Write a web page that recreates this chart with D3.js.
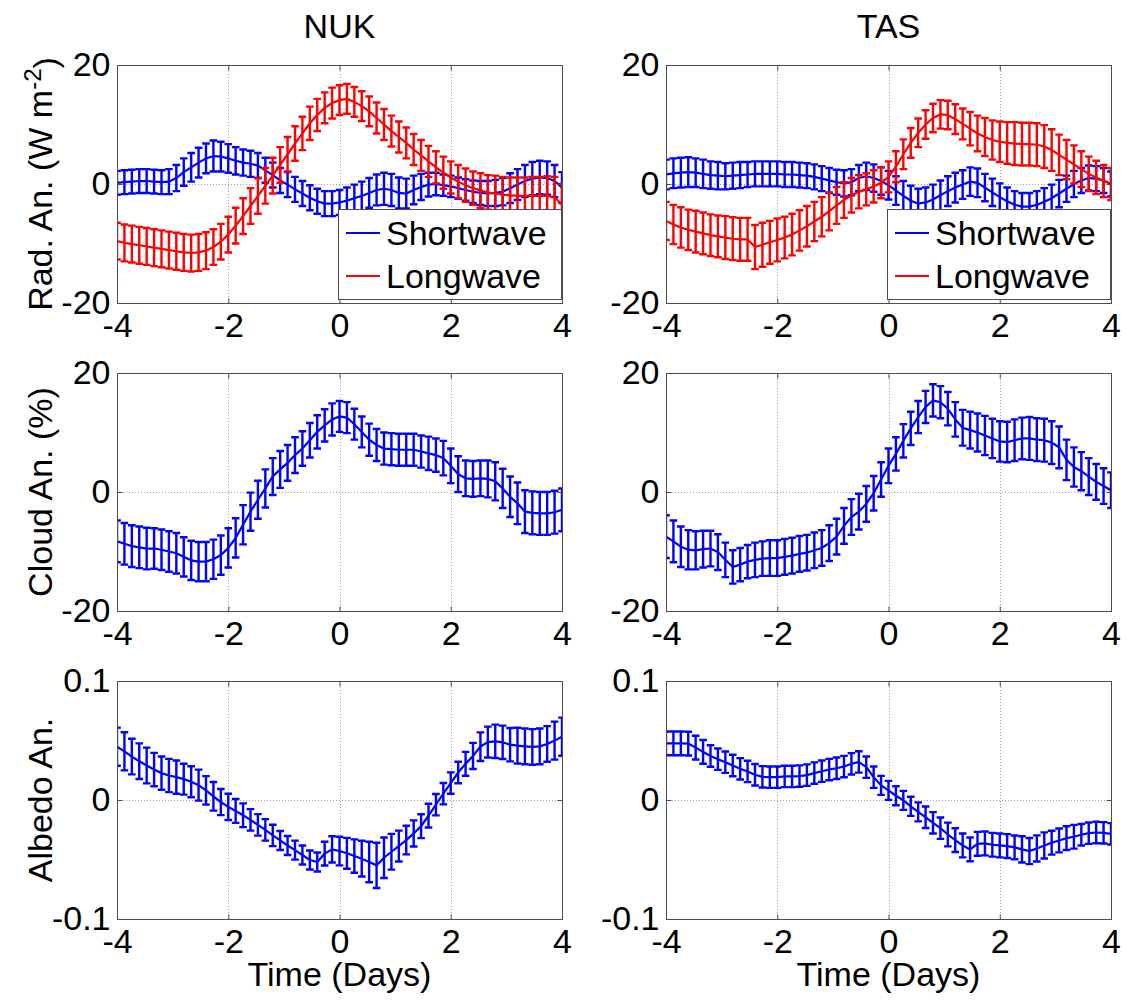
<!DOCTYPE html>
<html>
<head>
<meta charset="utf-8">
<script src="https://cdn.jsdelivr.net/npm/d3@7"></script>
<style>
  body { margin: 0; background: #fff; }
  svg text { font-family: "Liberation Sans", Arial, Helvetica, sans-serif; fill: #000; }
</style>
</head>
<body>
<div id="chart"></div>
<script>
// sample times: every 2/15 day from -4 to 4
var days = d3.range(61).map(function(i) { return -4 + i * 2 / 15; });

var stations = ["NUK", "TAS"];
var seriesNames = ["Shortwave", "Longwave"];
var xTicks = [-4, -2, 0, 2, 4];
var radTicks = [-20, 0, 20];
var cloudTicks = [-20, 0, 20];
var albedoTicks = [-0.1, 0, 0.1];

// ---------------- NUK ----------------
var nukSW = [
  0.2, 0.3, 0.4, 0.5, 0.5, 0.4, 0.3, 0.4, 1.0, 2.0,
  2.8, 3.6, 4.3, 4.7, 4.6, 4.3, 3.9, 3.6, 3.4, 3.1,
  2.3, 1.5, 0.6, -0.1, -0.9, -1.6, -2.3, -2.9, -3.3, -3.3,
  -3.1, -2.8, -2.4, -2.0, -1.5, -1.0, -0.8, -1.0, -1.5, -1.6,
  -1.0, -0.5, -0.1, 0.0, -0.2, -0.4, -0.7, -1.0, -1.3, -1.5,
  -1.6, -1.5, -1.3, -0.7, -0.1, 0.5, 0.9, 1.1, 1.0, 0.5,
  -0.6];
var nukSWerr = [
  2.0, 2.0, 2.0, 2.0, 2.0, 2.0, 2.0, 2.1, 2.2, 2.3,
  2.4, 2.5, 2.5, 2.6, 2.5, 2.4, 2.3, 2.2, 2.2, 2.1,
  2.1, 2.1, 2.1, 2.1, 2.1, 2.1, 2.1, 2.1, 2.1, 2.1,
  2.1, 2.2, 2.3, 2.4, 2.5, 2.6, 2.7, 2.7, 2.6, 2.5,
  2.4, 2.2, 2.0, 1.9, 1.8, 1.8, 1.8, 1.8, 1.9, 2.0,
  2.1, 2.2, 2.3, 2.5, 2.6, 2.7, 2.8, 2.8, 2.8, 2.7,
  2.6];
var nukLW = [
  -9.6, -9.9, -10.1, -10.3, -10.5, -10.7, -10.9, -11.1, -11.3, -11.5,
  -11.6, -11.5, -11.2, -10.6, -9.7, -8.5, -7.0, -5.4, -3.7, -2.0,
  -0.3, 1.4, 3.2, 5.0, 6.8, 8.5, 10.2, 11.6, 12.8, 13.6,
  14.1, 14.3, 13.8, 13.1, 12.2, 11.1, 10.0, 8.9, 7.9, 6.9,
  5.8, 4.8, 3.8, 2.8, 1.9, 1.1, 0.4, -0.2, -0.7, -1.1,
  -1.4, -1.6, -1.8, -1.9, -2.0, -2.0, -2.0, -2.0, -2.0, -2.2,
  -3.5];
var nukLWerr = [
  3.1, 3.1, 3.1, 3.1, 3.1, 3.1, 3.1, 3.1, 3.1, 3.1,
  3.1, 3.1, 3.1, 3.0, 3.0, 3.0, 3.0, 3.0, 3.0, 3.0,
  3.0, 3.0, 3.0, 2.9, 2.9, 2.8, 2.8, 2.7, 2.6, 2.6,
  2.5, 2.5, 2.5, 2.5, 2.5, 2.6, 2.6, 2.6, 2.6, 2.6,
  2.6, 2.6, 2.6, 2.7, 2.7, 2.7, 2.8, 2.8, 2.8, 2.9,
  2.9, 3.0, 3.0, 3.0, 3.1, 3.1, 3.2, 3.2, 3.3, 3.4,
  3.5];
var nukCloud = [
  -8.3, -8.7, -9.1, -9.3, -9.5, -9.5, -9.7, -10.0, -10.3, -10.9,
  -11.5, -11.7, -11.7, -11.3, -10.6, -9.4, -7.7, -5.5, -3.3, -1.3,
  0.6, 2.6, 3.8, 4.9, 6.2, 7.3, 8.7, 10.1, 11.2, 12.2,
  12.7, 12.5, 11.4, 10.1, 8.8, 7.9, 7.3, 7.2, 7.1, 7.1,
  7.1, 6.8, 6.5, 6.2, 5.7, 4.4, 3.0, 2.3, 2.2, 2.3,
  2.2, 1.8, 0.6, -0.8, -1.9, -3.3, -3.5, -3.6, -3.6, -3.4,
  -3.0];
var nukCloudErr = [
  3.5, 3.5, 3.5, 3.5, 3.5, 3.4, 3.4, 3.4, 3.4, 3.3,
  3.3, 3.3, 3.3, 3.3, 3.3, 3.3, 3.3, 3.3, 3.2, 3.2,
  3.2, 3.1, 3.1, 3.0, 3.0, 2.9, 2.9, 2.8, 2.7, 2.7,
  2.6, 2.6, 2.6, 2.6, 2.7, 2.7, 2.7, 2.7, 2.7, 2.7,
  2.7, 2.7, 2.8, 2.8, 2.9, 2.9, 3.0, 3.0, 3.0, 3.0,
  3.1, 3.2, 3.3, 3.4, 3.5, 3.6, 3.6, 3.6, 3.6, 3.6,
  3.6];
var nukAlb = [
  0.0448, 0.0409, 0.0365, 0.0326, 0.0290, 0.0256, 0.0226, 0.0206, 0.0192, 0.0175,
  0.0153, 0.0125, 0.0081, 0.0031, -0.0017, -0.0058, -0.0092, -0.0128, -0.0167, -0.0209,
  -0.0251, -0.0298, -0.0340, -0.0382, -0.0421, -0.0462, -0.0504, -0.0521, -0.0451, -0.0415,
  -0.0429, -0.0448, -0.0471, -0.0493, -0.0521, -0.0549, -0.0485, -0.0435, -0.0387, -0.0337,
  -0.0281, -0.0220, -0.0131, -0.0039, 0.0053, 0.0142, 0.0231, 0.0304, 0.0370, 0.0448,
  0.0487, 0.0493, 0.0485, 0.0465, 0.0457, 0.0451, 0.0446, 0.0451, 0.0471, 0.0499,
  0.0532];
var nukAlbErr = [
  0.016, 0.016, 0.015, 0.015, 0.015, 0.014, 0.014, 0.014, 0.014, 0.013,
  0.013, 0.013, 0.012, 0.012, 0.011, 0.011, 0.010, 0.010, 0.009, 0.009,
  0.009, 0.009, 0.008, 0.008, 0.008, 0.008, 0.008, 0.008, 0.010, 0.011,
  0.012, 0.013, 0.014, 0.015, 0.017, 0.019, 0.017, 0.015, 0.013, 0.012,
  0.011, 0.010, 0.010, 0.009, 0.009, 0.009, 0.009, 0.010, 0.011, 0.012,
  0.013, 0.014, 0.014, 0.014, 0.015, 0.015, 0.015, 0.015, 0.015, 0.016,
  0.016];

// ---------------- TAS ----------------
var tasSW = [
  1.6, 1.8, 1.9, 2.0, 1.9, 1.7, 1.5, 1.4, 1.3, 1.4,
  1.5, 1.6, 1.7, 1.7, 1.7, 1.7, 1.6, 1.6, 1.5, 1.4,
  1.2, 0.9, 0.6, 0.3, 0.1, 0.3, 1.0, 1.3, 1.0, 0.5,
  -0.2, -1.1, -2.0, -2.8, -3.3, -3.1, -2.6, -1.9, -1.2, -0.6,
  -0.1, 0.4, 0.2, -0.6, -1.4, -2.2, -2.9, -3.5, -3.8, -3.8,
  -3.5, -3.0, -2.4, -1.6, -0.8, 0.0, 0.6, 1.0, 0.9, 0.6,
  0.0];
var tasSWerr = [
  2.5, 2.5, 2.5, 2.5, 2.4, 2.4, 2.3, 2.3, 2.2, 2.2,
  2.2, 2.1, 2.1, 2.1, 2.1, 2.1, 2.1, 2.1, 2.1, 2.1,
  2.1, 2.1, 2.1, 2.1, 2.2, 2.2, 2.2, 2.3, 2.3, 2.3,
  2.4, 2.4, 2.5, 2.5, 2.5, 2.5, 2.5, 2.5, 2.5, 2.5,
  2.4, 2.4, 2.4, 2.3, 2.3, 2.3, 2.3, 2.3, 2.3, 2.3,
  2.3, 2.3, 2.3, 2.3, 2.2, 2.2, 2.1, 2.1, 2.1, 2.1,
  2.1];
var tasLW = [
  -6.2, -6.8, -7.3, -7.7, -8.0, -8.3, -8.6, -8.8, -9.0, -9.2,
  -9.3, -9.3, -10.6, -10.2, -9.8, -9.4, -9.0, -8.5, -7.8, -7.1,
  -6.3, -5.5, -4.6, -3.6, -2.7, -1.9, -1.3, -0.9, -0.4, 0.2,
  1.2, 2.9, 5.0, 6.9, 8.6, 10.0, 11.1, 11.7, 11.6, 10.9,
  10.1, 9.3, 8.5, 7.9, 7.4, 7.1, 6.9, 6.8, 6.7, 6.7,
  6.6, 6.3, 5.7, 4.9, 4.1, 3.3, 2.5, 1.7, 1.1, 0.5,
  0.0];
var tasLWerr = [
  3.2, 3.3, 3.4, 3.4, 3.5, 3.5, 3.5, 3.5, 3.6, 3.6,
  3.6, 3.6, 3.7, 3.7, 3.6, 3.6, 3.5, 3.5, 3.4, 3.4,
  3.3, 3.3, 3.2, 3.1, 3.0, 2.9, 2.8, 2.7, 2.7, 2.6,
  2.6, 2.6, 2.5, 2.5, 2.4, 2.4, 2.4, 2.4, 2.4, 2.5,
  2.6, 2.8, 3.0, 3.2, 3.3, 3.4, 3.5, 3.6, 3.6, 3.6,
  3.6, 3.6, 3.5, 3.4, 3.3, 3.2, 3.0, 2.9, 2.8, 2.7,
  2.7];
var tasCloud = [
  -7.5, -8.3, -9.2, -9.7, -9.8, -9.6, -9.5, -10.1, -11.4, -12.6,
  -12.2, -11.7, -11.4, -11.2, -11.1, -11.1, -10.9, -10.7, -10.4, -10.2,
  -9.8, -9.4, -8.6, -7.5, -5.7, -4.2, -3.3, -2.0, -0.2, 2.1,
  4.4, 6.4, 8.6, 10.7, 12.6, 14.3, 15.4, 15.1, 14.0, 12.2,
  10.8, 10.4, 10.0, 9.5, 9.0, 8.5, 8.4, 8.7, 9.0, 9.0,
  8.8, 8.7, 8.3, 7.5, 5.4, 4.2, 3.5, 2.6, 1.7, 1.0,
  0.3];
var tasCloudErr = [
  3.6, 3.5, 3.4, 3.3, 3.2, 3.1, 3.0, 3.0, 2.9, 2.8,
  2.8, 2.8, 2.9, 2.9, 3.0, 3.0, 3.0, 3.0, 3.0, 3.0,
  3.0, 3.0, 3.0, 3.0, 3.0, 3.0, 3.0, 3.0, 2.9, 2.9,
  2.9, 2.8, 2.8, 2.8, 2.7, 2.7, 2.7, 2.7, 2.8, 2.9,
  3.0, 3.1, 3.2, 3.3, 3.3, 3.4, 3.4, 3.5, 3.5, 3.6,
  3.6, 3.6, 3.6, 3.5, 3.4, 3.3, 3.2, 3.1, 3.0, 3.0,
  3.0];
var tasAlb = [
  0.0476, 0.0476, 0.0476, 0.0474, 0.0440, 0.0404, 0.0370, 0.0343, 0.0318, 0.0290,
  0.0262, 0.0240, 0.0212, 0.0195, 0.0192, 0.0192, 0.0198, 0.0198, 0.0201, 0.0209,
  0.0226, 0.0242, 0.0256, 0.0267, 0.0281, 0.0304, 0.0320, 0.0276, 0.0192, 0.0123,
  0.0081, 0.0036, -0.0003, -0.0053, -0.0100, -0.0145, -0.0192, -0.0237, -0.0290, -0.0337,
  -0.0382, -0.0415, -0.0368, -0.0365, -0.0376, -0.0382, -0.0387, -0.0398, -0.0415, -0.0429,
  -0.0407, -0.0382, -0.0359, -0.0340, -0.0320, -0.0309, -0.0292, -0.0279, -0.0273, -0.0276,
  -0.0284];
var tasAlbErr = [
  0.010, 0.010, 0.010, 0.010, 0.010, 0.010, 0.009, 0.009, 0.009, 0.009,
  0.009, 0.009, 0.009, 0.009, 0.009, 0.009, 0.009, 0.009, 0.009, 0.009,
  0.009, 0.009, 0.009, 0.009, 0.009, 0.009, 0.009, 0.009, 0.009, 0.008,
  0.008, 0.008, 0.008, 0.008, 0.008, 0.009, 0.009, 0.009, 0.010, 0.010,
  0.010, 0.010, 0.010, 0.010, 0.010, 0.010, 0.010, 0.010, 0.011, 0.011,
  0.011, 0.011, 0.010, 0.010, 0.010, 0.010, 0.009, 0.009, 0.009, 0.009,
  0.009];

var blue = "#0000ff",
    red = "#ff0000",
    axisGrey = "#4d4d4d",
    gridGrey = "#a0a0a0";

var fontSize = 34;

var svg = d3.select("#chart").append("svg")
  .attr("width", 1126)
  .attr("height", 1003);

// panel geometry
var colX = [117, 666];
var rowY = [65, 373, 681];
var pw = 445, ph = 238;

var panels = [
  { col: 0, row: 0, domain: [-20, 20], ticks: radTicks, legend: true,
    series: [{ v: nukSW, e: nukSWerr, c: blue }, { v: nukLW, e: nukLWerr, c: red }] },
  { col: 1, row: 0, domain: [-20, 20], ticks: radTicks, legend: true,
    series: [{ v: tasSW, e: tasSWerr, c: blue }, { v: tasLW, e: tasLWerr, c: red }] },
  { col: 0, row: 1, domain: [-20, 20], ticks: cloudTicks,
    series: [{ v: nukCloud, e: nukCloudErr, c: blue }] },
  { col: 1, row: 1, domain: [-20, 20], ticks: cloudTicks,
    series: [{ v: tasCloud, e: tasCloudErr, c: blue }] },
  { col: 0, row: 2, domain: [-0.1, 0.1], ticks: albedoTicks,
    series: [{ v: nukAlb, e: nukAlbErr, c: blue }] },
  { col: 1, row: 2, domain: [-0.1, 0.1], ticks: albedoTicks,
    series: [{ v: tasAlb, e: tasAlbErr, c: blue }] }
];

var x = d3.scaleLinear().domain([-4, 4]).range([0, pw]);
var fmt = function(d) { return String(d); };
var capW = 3.8;

panels.forEach(function(p, pi) {
  var y = d3.scaleLinear().domain(p.domain).range([ph, 0]);
  var g = svg.append("g")
    .attr("transform", "translate(" + colX[p.col] + "," + rowY[p.row] + ")");

  g.append("clipPath").attr("id", "clip" + pi)
    .append("rect").attr("width", pw).attr("height", ph);

  //Dotted grid
  var grid = g.append("g").attr("class", "grid")
    .style("stroke", gridGrey).style("stroke-width", 1).style("stroke-dasharray", "1,2");
  grid.selectAll(".gx").data(xTicks).enter().append("line")
    .attr("x1", function(d) { return Math.round(x(d)) + 0.5; })
    .attr("x2", function(d) { return Math.round(x(d)) + 0.5; })
    .attr("y1", 0).attr("y2", ph);
  grid.selectAll(".gy").data(p.ticks).enter().append("line")
    .attr("y1", function(d) { return Math.round(y(d)) + 0.5; })
    .attr("y2", function(d) { return Math.round(y(d)) + 0.5; })
    .attr("x1", 0).attr("x2", pw);

  //Data: error bars then mean line
  var plot = g.append("g").attr("clip-path", "url(#clip" + pi + ")");
  p.series.forEach(function(s) {
    var pts = days.map(function(t, i) { return { t: t, v: s.v[i], e: s.e[i] }; });
    var eb = plot.append("g")
      .style("stroke", s.c).style("stroke-width", 2.4).style("fill", "none");
    eb.selectAll("path").data(pts).enter().append("path")
      .attr("d", function(d) {
        var xx = x(d.t), lo = y(d.v - d.e), hi = y(d.v + d.e);
        return "M" + xx + "," + lo + "V" + hi +
          "M" + (xx - capW) + "," + hi + "H" + (xx + capW) +
          "M" + (xx - capW) + "," + lo + "H" + (xx + capW);
      });
    plot.append("path")
      .datum(pts)
      .attr("d", d3.line().x(function(d) { return x(d.t); }).y(function(d) { return y(d.v); }))
      .style("fill", "none").style("stroke", s.c).style("stroke-width", 2.2);
  });

  //Box
  g.append("rect")
    .attr("x", 0.5).attr("y", 0.5).attr("width", pw).attr("height", ph)
    .style("fill", "none").style("stroke", axisGrey).style("stroke-width", 1);

  //Axes (ticks pointing inward)
  var xAxis = g.append("g").attr("transform", "translate(0," + (ph + 0.5) + ")")
    .call(d3.axisBottom(x).tickValues(xTicks).tickFormat(fmt).tickSize(-5).tickPadding(9));
  var xTop = g.append("g").attr("transform", "translate(0,0.5)")
    .call(d3.axisTop(x).tickValues(xTicks).tickFormat("").tickSize(-5));
  var yAxis = g.append("g").attr("transform", "translate(0.5,0)")
    .call(d3.axisLeft(y).tickValues(p.ticks).tickFormat(fmt).tickSize(-5).tickPadding(7));
  var yRight = g.append("g").attr("transform", "translate(" + (pw + 0.5) + ",0)")
    .call(d3.axisRight(y).tickValues(p.ticks).tickFormat("").tickSize(-5));
  [xAxis, xTop, yAxis, yRight].forEach(function(a) {
    a.select(".domain").remove();
    a.selectAll("line").style("stroke", axisGrey);
    a.selectAll("text").style("font-size", fontSize + "px").style("font-family", null).attr("fill", "#000");
  });

  //Legend
  if (p.legend) {
    var lw = 223, lh = 90;
    var lg = g.append("g").attr("transform", "translate(" + (pw - lw - 1) + "," + (ph - lh - 4) + ")");
    lg.append("rect").attr("x", 0.5).attr("y", 0.5).attr("width", lw).attr("height", lh)
      .style("fill", "#fff").style("stroke", axisGrey).style("stroke-width", 1);
    p.series.forEach(function(s, i) {
      var cy = 24 + i * 43;
      lg.append("line").attr("x1", 8).attr("x2", 42).attr("y1", cy).attr("y2", cy)
        .style("stroke", s.c).style("stroke-width", 2.2);
      lg.append("text").attr("x", 48).attr("y", cy).attr("dy", "0.35em")
        .style("font-size", fontSize + "px").text(seriesNames[i]);
    });
  }

  //Titles
  if (p.row === 0) {
    g.append("text").attr("x", pw / 2).attr("y", -27)
      .style("text-anchor", "middle").style("font-size", fontSize + "px")
      .text(stations[p.col]);
  }
  if (p.row === 2) {
    g.append("text").attr("x", pw / 2).attr("y", ph + 67)
      .style("text-anchor", "middle").style("font-size", fontSize + "px")
      .text("Time (Days)");
  }
  if (p.col === 0) {
    var yl = g.append("text")
      .attr("transform", "translate(" + (52 - colX[0]) + "," + (ph / 2) + ") rotate(-90)")
      .style("text-anchor", "middle").style("font-size", fontSize + "px");
    if (p.row === 0) {
      yl.append("tspan").text("Rad. An. (W m");
      yl.append("tspan").attr("dy", "-0.45em").style("font-size", "24px").text("-2");
      yl.append("tspan").attr("dy", "0.45em").text(")");
    } else if (p.row === 1) {
      yl.text("Cloud An. (%)");
    } else {
      yl.text("Albedo An.");
    }
  }
});
</script>
</body>
</html>
